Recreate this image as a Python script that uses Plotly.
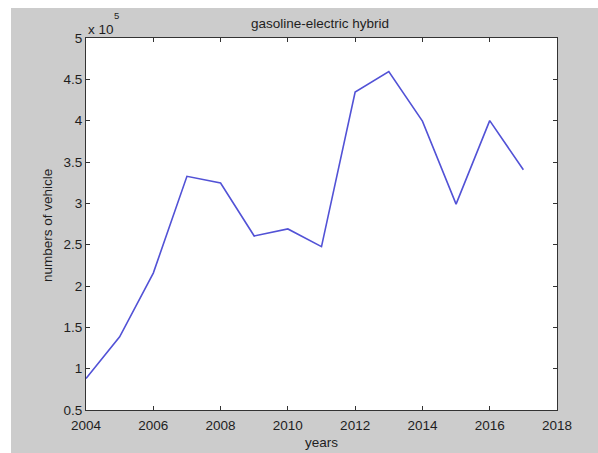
import plotly.graph_objects as go

years = [2004, 2005, 2006, 2007, 2008, 2009, 2010, 2011, 2012, 2013, 2014, 2015, 2016, 2017]
vehicles = [88000, 138500, 215600, 332700, 324600, 260500, 269000, 247600, 434600, 459400, 399500, 299000, 400000, 340600]

x_tick_vals = [2004, 2006, 2008, 2010, 2012, 2014, 2016, 2018]
y_tick_vals = [50000, 100000, 150000, 200000, 250000, 300000, 350000, 400000, 450000, 500000]
y_tick_text = ["0.5", "1", "1.5", "2", "2.5", "3", "3.5", "4", "4.5", "5"]

W, H = 598, 453
ML, MR, MT, MB = 86, 41, 38, 43
PW, PH = W - ML - MR, H - MT - MB

def px(x):
    return (x - ML) / PW

def py(y):
    return 1 - (y - MT) / PH

FONT = "Liberation Sans, Arial, sans-serif"
TXT = "#1e1e1e"
GRAY = "#cccccc"

fig = go.Figure()
fig.add_trace(go.Scatter(x=years, y=vehicles, mode="lines",
                         line=dict(color="#5252d6", width=1.6),
                         showlegend=False, hoverinfo="skip"))

axis_common = dict(showline=True, linecolor="#333333", linewidth=1, mirror="ticks",
                   ticks="inside", ticklen=4, tickcolor="#333333", tickwidth=1,
                   showgrid=False, zeroline=False,
                   tickfont=dict(family=FONT, size=13.5, color=TXT))

fig.update_xaxes(range=[2004, 2018], tickvals=x_tick_vals, ticklabelstandoff=3, **axis_common)
fig.update_yaxes(range=[50000, 500000], tickvals=y_tick_vals, ticktext=y_tick_text, **axis_common)

fig.update_layout(
    width=W, height=H,
    margin=dict(l=ML, r=MR, t=MT, b=MB, pad=0),
    paper_bgcolor="white", plot_bgcolor="rgba(0,0,0,0)",
    shapes=[
        dict(type="rect", xref="paper", yref="paper", layer="below",
             x0=px(11), x1=px(W + 5), y0=py(8), y1=py(H + 5),
             fillcolor=GRAY, line=dict(width=0)),
        dict(type="rect", xref="paper", yref="paper", layer="below",
             x0=0, x1=1, y0=0, y1=1, fillcolor="white", line=dict(width=0)),
    ],
    annotations=[
        dict(text="gasoline-electric hybrid", xref="paper", yref="paper",
             x=px(320), y=py(23), xanchor="center", yanchor="middle", showarrow=False,
             font=dict(family=FONT, size=13.5, color=TXT)),
        dict(text="years", xref="paper", yref="paper",
             x=px(321), y=py(443), xanchor="center", yanchor="middle", showarrow=False,
             font=dict(family=FONT, size=13.5, color=TXT)),
        dict(text="numbers of vehicle", xref="paper", yref="paper", textangle=-90,
             x=px(47), y=py(226), xanchor="center", yanchor="middle", showarrow=False,
             font=dict(family=FONT, size=13.5, color=TXT)),
        dict(text="x 10", xref="paper", yref="paper",
             x=px(86), y=py(29), xanchor="left", yanchor="middle", showarrow=False,
             font=dict(family=FONT, size=13.5, color=TXT)),
        dict(text="5", xref="paper", yref="paper",
             x=px(112), y=py(15.5), xanchor="left", yanchor="middle", showarrow=False,
             font=dict(family=FONT, size=9.5, color=TXT)),
    ],
)

fig.write_html("out.html", config={"displayModeBar": False},
               post_script="document.body.style.margin='0';document.body.style.overflow='hidden';")
